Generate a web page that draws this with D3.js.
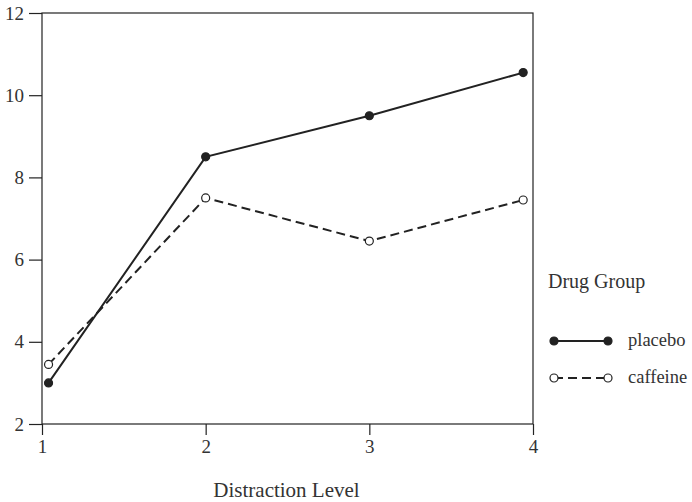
<!DOCTYPE html>
<html>
<head>
<meta charset="utf-8">
<script src="https://cdn.jsdelivr.net/npm/d3@7"></script>
<style>
  body { margin: 0; background: #fff; }
  svg text { font-family: "Liberation Serif", "Times New Roman", serif; }
</style>
</head>
<body>
<svg id="chart" width="692" height="502"></svg>
<script>
// Mean scores by distraction level for each drug group
const distractionLevels = [1.04, 2, 3, 3.94];
const placebo = [3.0, 8.5, 9.5, 10.55];
const caffeine = [3.45, 7.5, 6.45, 7.45];
const xTicks = [1, 2, 3, 4];
const yTicks = [2, 4, 6, 8, 10, 12];
const seriesNames = ["placebo", "caffeine"];

const svg = d3.select("#chart");
const ink = "#222";
const margin = { left: 42, top: 13, right: 159, bottom: 78 };
const W = 692, H = 502;

const x = d3.scaleLinear().domain([1, 4]).range([margin.left, W - margin.right]);
const y = d3.scaleLinear().domain([2, 12]).range([H - margin.bottom, margin.top]);

// Frame around the plot area
svg.append("rect")
  .attr("x", x(1)).attr("y", y(12))
  .attr("width", x(4) - x(1)).attr("height", y(2) - y(12))
  .attr("fill", "none").attr("stroke", ink).attr("stroke-width", 1.2);

const xAxis = svg.append("g")
  .attr("transform", `translate(0,${y(2)})`)
  .call(d3.axisBottom(x).tickValues(xTicks).tickFormat(d3.format("d")).tickSize(11));
xAxis.selectAll(".tick text").attr("y", 29).attr("dy", null);

const yAxis = svg.append("g")
  .attr("transform", `translate(${x(1)},0)`)
  .call(d3.axisLeft(y).tickValues(yTicks).tickFormat(d3.format("d")).tickSize(13).tickPadding(5));

[xAxis, yAxis].forEach(g => {
  g.select(".domain").remove();
  g.selectAll(".tick line").attr("stroke", ink).attr("stroke-width", 1.2);
  g.selectAll(".tick text").attr("fill", "#333").style("font-size", "19px");
});

svg.append("text")
  .attr("x", (x(1) + x(4)) / 2 - 1).attr("y", 497)
  .attr("text-anchor", "middle").attr("fill", "#333")
  .style("font-size", "21px")
  .text("Distraction Level");

const line = d3.line().x(d => x(d[0])).y(d => y(d[1]));
const series = [
  { name: seriesNames[0], values: placebo, dash: null, fill: ink },
  { name: seriesNames[1], values: caffeine, dash: "9,5", fill: "#fff" }
];

series.forEach(s => {
  const pts = distractionLevels.map((d, i) => [d, s.values[i]]);
  svg.append("path")
    .attr("d", line(pts))
    .attr("fill", "none").attr("stroke", ink).attr("stroke-width", 2)
    .attr("stroke-dasharray", s.dash);
  svg.selectAll(null).data(pts).enter().append("circle")
    .attr("cx", d => x(d[0])).attr("cy", d => y(d[1]))
    .attr("r", 4).attr("fill", s.fill).attr("stroke", ink).attr("stroke-width", 1.2);
});

// Legend
const legend = svg.append("g").attr("transform", "translate(548,0)");
legend.append("text").attr("x", 0).attr("y", 288)
  .attr("fill", "#333").style("font-size", "20px").text("Drug Group");
series.forEach((s, i) => {
  const ly = 341 + i * 37;
  legend.append("line").attr("x1", 6).attr("x2", 60).attr("y1", ly).attr("y2", ly)
    .attr("stroke", ink).attr("stroke-width", 2).attr("stroke-dasharray", s.dash);
  [6, 60].forEach(cx => legend.append("circle").attr("cx", cx).attr("cy", ly).attr("r", 4)
    .attr("fill", s.fill).attr("stroke", ink).attr("stroke-width", 1.2));
  legend.append("text").attr("x", 80).attr("y", ly + 5)
    .attr("fill", "#333").style("font-size", "18.5px").text(s.name);
});
</script>
</body>
</html>
